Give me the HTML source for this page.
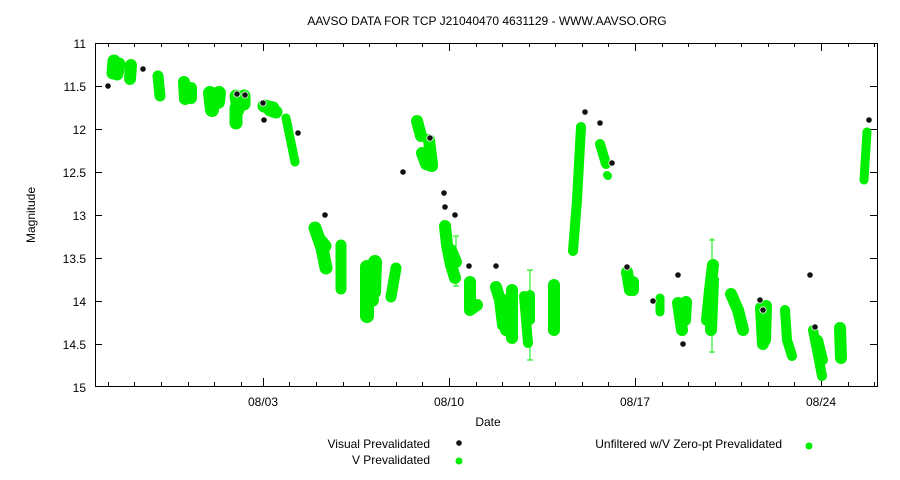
<!DOCTYPE html>
<html><head><style>body{margin:0;background:#fff}svg{display:block}text{font-family:"Liberation Sans",sans-serif;font-size:12px;fill:#000}</style></head><body>
<svg width="900" height="480" xmlns="http://www.w3.org/2000/svg">
<rect width="900" height="480" fill="#fff"/>
<text x="487" y="25" text-anchor="middle">AAVSO DATA FOR TCP J21040470 4631129 - WWW.AAVSO.ORG</text>
<g text-anchor="end">
<text x="86" y="48">11</text><text x="86" y="91">11.5</text><text x="86" y="134">12</text><text x="86" y="177">12.5</text><text x="86" y="220">13</text><text x="86" y="263">13.5</text><text x="86" y="306">14</text><text x="86" y="349">14.5</text><text x="86" y="392">15</text>
</g>
<g text-anchor="middle">
<text x="263" y="406">08/03</text><text x="449" y="406">08/10</text><text x="635" y="406">08/17</text><text x="821" y="406">08/24</text>
<text x="488" y="426">Date</text>
</g>
<text transform="translate(35,215) rotate(-90)" text-anchor="middle">Magnitude</text>
<g stroke="#000" stroke-width="1" fill="none">
<rect x="95.5" y="43.5" width="782" height="343"/>
<path d="M95 86.5h7M95 129.5h7M95 172.5h7M95 215.5h7M95 258.5h7M95 301.5h7M95 344.5h7M877 86.5h-7M877 129.5h-7M877 172.5h-7M877 215.5h-7M877 258.5h-7M877 301.5h-7M877 344.5h-7"/>
<path d="M263.5 386v-8M449.5 386v-8M635.5 386v-8M821.5 386v-8M263.5 43v8M449.5 43v8M635.5 43v8M821.5 43v8"/>
<path d="M108.5 386v-4M134.5 386v-4M161.5 386v-4M188.5 386v-4M214.5 386v-4M241.5 386v-4M289.5 386v-4M316.5 386v-4M343.5 386v-4M369.5 386v-4M396.5 386v-4M422.5 386v-4M476.5 386v-4M502.5 386v-4M529.5 386v-4M555.5 386v-4M582.5 386v-4M608.5 386v-4M662.5 386v-4M688.5 386v-4M715.5 386v-4M741.5 386v-4M768.5 386v-4M794.5 386v-4M848.5 386v-4M874.5 386v-4
M108.5 43v4M134.5 43v4M161.5 43v4M188.5 43v4M214.5 43v4M241.5 43v4M289.5 43v4M316.5 43v4M343.5 43v4M369.5 43v4M396.5 43v4M422.5 43v4M476.5 43v4M502.5 43v4M529.5 43v4M555.5 43v4M582.5 43v4M608.5 43v4M662.5 43v4M688.5 43v4M715.5 43v4M741.5 43v4M768.5 43v4M794.5 43v4M848.5 43v4M874.5 43v4"/>
</g>
<g stroke="#00ee00" stroke-linecap="round" stroke-linejoin="round" fill="none">
<path stroke-width="13" d="M114 61L113 73M119 64L117 74"/>
<path stroke-width="12" d="M131 65L130 79"/>
<path stroke-width="11" d="M158 76L160 96"/>
<path stroke-width="12" d="M184 82L185 99M191 88L191 98"/>
<path stroke-width="14" d="M210 93L212 110M219 93L218 102"/>
<path stroke-width="13" d="M236 96L238 110M244 96L244 104M236 108L236 123"/>
<path stroke-width="13" d="M264 106L273 108M270 110L276 112"/>
<path stroke-width="9" d="M286 118L295 162"/>
<path stroke-width="13" d="M315 228L322 248L326 268M320 240L325 246"/>
<path stroke-width="11" d="M341 245L341 289"/>
<path stroke-width="14" d="M367 267L367 316M375 262L374 292M370 280L372 300"/>
<path stroke-width="11" d="M391 297L396 268"/>
<path stroke-width="12" d="M417 121L421 136M422 153L426 164L432 166M429 140L432 164"/>
<path stroke-width="12" d="M445 226L447 245L451 265L455 278M451 250L456 262"/>
<path stroke-width="12" d="M470 282L470 310L477 305"/>
<path stroke-width="12" d="M496 287L500 300L503 325M507 300L506 330M512 290L512 338"/>
<path stroke-width="10" d="M524 296L528 343M530 295L530 320"/>
<path stroke-width="12" d="M554 285L554 330"/>
<path stroke-width="10" d="M573 251L577 200L581 127"/>
<path stroke-width="10" d="M600 144L606 164"/>
<path stroke-width="8" d="M607 175L608 176"/>
<path stroke-width="12" d="M627 272L630 290M633 282L633 290"/>
<path stroke-width="9" d="M660 298L660 312"/>
<path stroke-width="12" d="M678 303L682 330M686 302L685 320"/>
<path stroke-width="12" d="M707 320L710 290L713 265M713 280L711 330"/>
<path stroke-width="12" d="M731 294L738 310L743 330"/>
<path stroke-width="12" d="M761 308L763 344M766 306L765 340"/>
<path stroke-width="10" d="M785 310L787 340L792 356"/>
<path stroke-width="10" d="M813 330L817 350L822 376M818 340L823 360"/>
<path stroke-width="12" d="M840 328L841 358"/>
<path stroke-width="9" d="M867 132L864 180"/>
</g>
<g stroke="#00ee00" stroke-width="1" fill="none">
<path d="M712 238v115M709 240h6M709 352h6"/>
<path d="M456 236v50M453 236h6M453 286h6"/>
<path d="M530 270v90M527 270h6M527 360h6"/>
</g>
<g fill="#111" stroke="#fff" stroke-width="0.8">
<circle cx="108" cy="86" r="3.2"/><circle cx="143" cy="69" r="3.2"/><circle cx="237" cy="94" r="3.2"/><circle cx="245" cy="95" r="3.2"/><circle cx="263" cy="103" r="3.2"/><circle cx="264" cy="120" r="3.2"/><circle cx="298" cy="133" r="3.2"/><circle cx="325" cy="215" r="3.2"/><circle cx="403" cy="172" r="3.2"/><circle cx="430" cy="138" r="3.2"/><circle cx="444" cy="193" r="3.2"/><circle cx="445" cy="207" r="3.2"/><circle cx="455" cy="215" r="3.2"/><circle cx="469" cy="266" r="3.2"/><circle cx="496" cy="266" r="3.2"/><circle cx="585" cy="112" r="3.2"/><circle cx="600" cy="123" r="3.2"/><circle cx="612" cy="163" r="3.2"/><circle cx="627" cy="267" r="3.2"/><circle cx="653" cy="301" r="3.2"/><circle cx="678" cy="275" r="3.2"/><circle cx="683" cy="344" r="3.2"/><circle cx="760" cy="300" r="3.2"/><circle cx="763" cy="310" r="3.2"/><circle cx="810" cy="275" r="3.2"/><circle cx="815" cy="327" r="3.2"/><circle cx="869" cy="120" r="3.2"/><circle cx="459" cy="443" r="3.2"/>
</g>
<g text-anchor="end">
<text x="430" y="448">Visual Prevalidated</text>
<text x="430" y="464">V Prevalidated</text>
<text x="782" y="448">Unfiltered w/V Zero-pt Prevalidated</text>
</g>
<circle cx="459" cy="461" r="3.5" fill="#00ee00"/>
<circle cx="809" cy="446" r="3.5" fill="#00ee00"/>
</svg>
</body></html>
